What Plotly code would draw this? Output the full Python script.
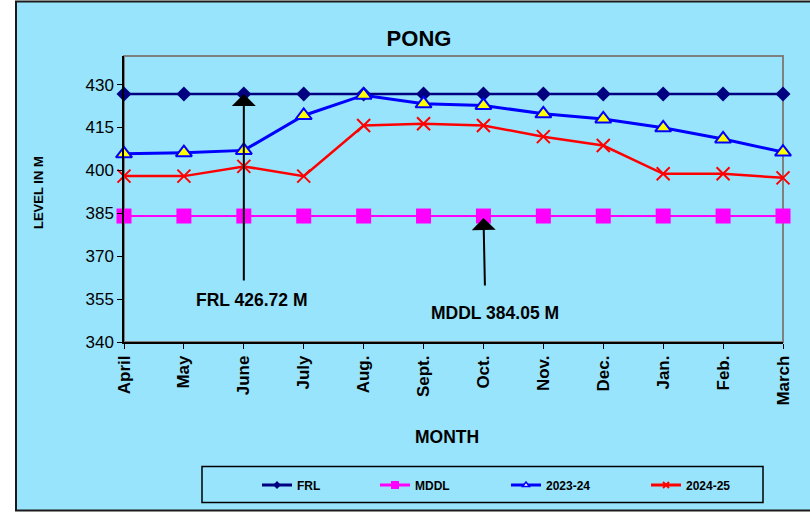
import plotly.graph_objects as go

# Reservoir level data (metres)
months = ["April", "May", "June", "July", "Aug.", "Sept.", "Oct.",
          "Nov.", "Dec.", "Jan.", "Feb.", "March"]
frl = [426.72, 426.72, 426.72, 426.72, 426.72, 426.72,
       426.72, 426.72, 426.72, 426.72, 426.72, 426.72]
mddl = [384.05, 384.05, 384.05, 384.05, 384.05, 384.05,
        384.05, 384.05, 384.05, 384.05, 384.05, 384.05]
lvl_2023_24 = [405.8, 406.2, 407.0, 419.2, 426.3, 423.3,
               422.7, 419.8, 418.0, 414.9, 411.0, 406.4]
lvl_2024_25 = [398.0, 398.0, 401.4, 398.0, 415.7, 416.3,
               415.7, 411.8, 408.7, 398.8, 398.8, 397.4]
y_ticks = [340, 355, 370, 385, 400, 415, 430]

BG = "#98E4FC"
FONT = "Arial, Liberation Sans, sans-serif"

series = [
    dict(name="FRL", y=frl, color="#000080", width=2.5,
         marker=dict(symbol="diamond", size=11.5, color="#000080"),
         leg_marker=dict(symbol="diamond", size=6, color="#000080"),
         legend="legend"),
    dict(name="MDDL", y=mddl, color="#FF00FF", width=2,
         marker=dict(symbol="square", size=15, color="#FF00FF"),
         leg_marker=dict(symbol="square", size=8, color="#FF00FF"),
         legend="legend2"),
    dict(name="2023-24", y=lvl_2023_24, color="#0000FF", width=3,
         marker=dict(symbol="triangle-up", size=14, color="#FFFF00",
                     line=dict(color="#0000FF", width=2)),
         leg_marker=dict(symbol="triangle-up", size=6, color="#FFFFFF",
                         line=dict(color="#0000FF", width=1.5)),
         legend="legend3"),
    dict(name="2024-25", y=lvl_2024_25, color="#FF0000", width=2.5,
         marker=dict(symbol="x-thin", size=13, color="#FF0000",
                     line=dict(color="#FF0000", width=2)),
         leg_marker=dict(symbol="x-thin", size=6, color="#FF0000",
                         line=dict(color="#FF0000", width=2)),
         legend="legend4"),
]

fig = go.Figure()
for s in series:
    fig.add_trace(go.Scatter(
        x=months, y=s["y"], mode="lines+markers", name=s["name"],
        line=dict(color=s["color"], width=s["width"]),
        marker=s["marker"], cliponaxis=False, showlegend=False))
    # legend entry with smaller glyph
    fig.add_trace(go.Scatter(
        x=[None], y=[None], mode="lines+markers",
        name="<b>" + s["name"] + "</b>",
        line=dict(color=s["color"], width=3),
        marker=s["leg_marker"], legend=s["legend"], showlegend=True))

PL, PR, PT, PB = 124, 27, 56, 172
W, H = 810, 514
pw = W - PL - PR
ph = H - PT - PB


def px(x):
    return (x - PL) / pw


def py(y):
    return (H - PB - y) / ph


leg_common = dict(orientation="h", yanchor="middle", xanchor="left",
                  bgcolor="rgba(0,0,0,0)", borderwidth=0,
                  font=dict(family=FONT, size=12, color="#000000"))
text_starts = [297, 415, 546, 686]
legend_keys = ["legend", "legend2", "legend3", "legend4"]
legend_layout = {}
for key, xs in zip(legend_keys, text_starts):
    legend_layout[key] = dict(x=px(xs - 40), y=py(485), **leg_common)

fig.update_layout(
    width=W, height=H,
    margin=dict(l=PL, r=PR, t=PT, b=PB),
    paper_bgcolor="#FFFFFF",
    plot_bgcolor="rgba(0,0,0,0)",
    font=dict(family=FONT, color="#000000"),
    title=dict(text="<b>PONG</b>", x=419 / W, xanchor="center",
               y=1 - 38 / H, yanchor="middle", yref="container",
               font=dict(family=FONT, size=22, color="#000000")),
    xaxis=dict(type="category", range=[0, 11], showgrid=False,
               showline=True, linecolor="#000000", linewidth=1.5,
               ticks="outside", ticklen=5, tickcolor="#000000",
               tickangle=-90, tickfont=dict(family=FONT, size=17),
               tickprefix="<b>", ticksuffix="</b>", zeroline=False),
    yaxis=dict(range=[340, 440], tickvals=y_ticks, showgrid=False,
               showline=True, linecolor="#000000", linewidth=1.5,
               ticks="outside", ticklen=5, tickcolor="#000000",
               tickfont=dict(family=FONT, size=17),
               tickprefix="<b>", ticksuffix="</b>", zeroline=False),
    **legend_layout,
)

# chart area background and frame
fig.add_shape(type="rect", xref="paper", yref="paper",
              x0=px(16), x1=px(812), y0=py(510.5), y1=py(1.5),
              fillcolor=BG, line=dict(color="#1A1A1A", width=2),
              layer="below")
# plot area frame (top/right grey)
fig.add_shape(type="rect", xref="paper", yref="paper",
              x0=0, x1=1, y0=0, y1=1,
              line=dict(color="#808080", width=2), layer="below")
# legend frame
fig.add_shape(type="rect", xref="paper", yref="paper",
              x0=px(202), x1=px(763), y0=py(502.5), y1=py(466.5),
              line=dict(color="#000000", width=1.5), layer="below")

ann_font = dict(family=FONT, size=17.5, color="#000000")
fig.add_annotation(text="<b>MONTH</b>", xref="paper", yref="paper",
                   x=px(447), y=py(437), showarrow=False,
                   xanchor="center", yanchor="middle", font=ann_font)
fig.add_annotation(text="<b>LEVEL IN M</b>", xref="paper", yref="paper",
                   x=px(38), y=py(193), showarrow=False, textangle=-90,
                   xanchor="center", yanchor="middle",
                   font=dict(family=FONT, size=13, color="#000000"))

# reference level call-outs
fig.add_annotation(text="<b>FRL 426.72 M</b>", xref="paper", yref="paper",
                   x=px(252), y=py(300), showarrow=False,
                   xanchor="center", yanchor="middle", font=ann_font)
fig.add_annotation(text="<b>MDDL 384.05 M</b>", xref="paper", yref="paper",
                   x=px(495), y=py(313), showarrow=False,
                   xanchor="center", yanchor="middle", font=ann_font)
fig.add_annotation(x="June", y=frl[2], xref="x", yref="y", text="",
                   showarrow=True, ax=0, ay=188, arrowhead=1,
                   arrowsize=2.0, arrowwidth=2, arrowcolor="#000000",
                   standoff=0)
fig.add_annotation(x="Oct.", y=mddl[6], xref="x", yref="y", text="",
                   showarrow=True, ax=1.5, ay=71, arrowhead=1,
                   arrowsize=2.0, arrowwidth=2, arrowcolor="#000000",
                   standoff=2)

fig.write_html("out.html")
